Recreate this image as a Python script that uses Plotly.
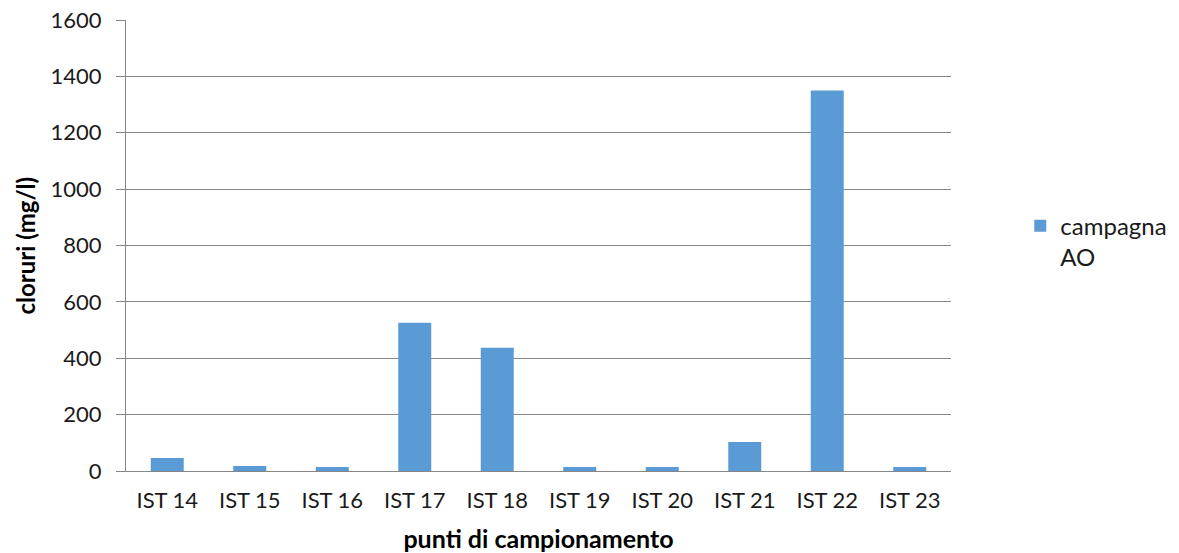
import plotly.graph_objects as go

# Sampling points and chloride concentrations (mg/l)
punti = ["IST 14", "IST 15", "IST 16", "IST 17", "IST 18",
         "IST 19", "IST 20", "IST 21", "IST 22", "IST 23"]
cloruri = [46, 18, 14, 526, 437, 14, 14, 103, 1350, 14]
serie = "campagna<br>AO"

y_ticks = [0, 200, 400, 600, 800, 1000, 1200, 1400, 1600]

FONT = "Lato"
GRID = "#868686"
TEXT = "#1a1a1a"

fig = go.Figure()
fig.add_trace(go.Bar(
    x=punti,
    y=cloruri,
    name=serie,
    marker=dict(color="#5b9bd5", line=dict(width=0)),
    showlegend=True,
))

fig.update_layout(
    width=1179,
    height=553,
    margin=dict(l=126, r=228, t=20, b=82, autoexpand=False),
    paper_bgcolor="white",
    plot_bgcolor="white",
    bargap=0.6,
    font=dict(family=FONT, size=22, color=TEXT),
    showlegend=True,
    legend=dict(
        x=1.084, y=0.593, xanchor="left", yanchor="top",
        valign="top",
        font=dict(family=FONT, size=24, color=TEXT),
        bgcolor="rgba(0,0,0,0)",
    ),
    xaxis=dict(
        automargin=False,
        showgrid=False,
        showline=True, linecolor=GRID, linewidth=1,
        ticks="", ticklabelstandoff=10,
        tickfont=dict(family=FONT, size=22, color=TEXT),
        title=dict(text="<b>punti di campionamento</b>",
                   font=dict(family=FONT, size=25, color="#000000"),
                   standoff=22),
    ),
    yaxis=dict(
        automargin=False,
        range=[0, 1600],
        tickvals=y_ticks,
        showgrid=True, gridcolor=GRID, gridwidth=1,
        showline=True, linecolor=GRID, linewidth=1,
        ticks="outside", ticklen=9, tickcolor=GRID,
        ticklabelstandoff=10,
        tickfont=dict(family=FONT, size=22, color=TEXT),
        zeroline=False,
    ),
)

# Vertical axis title, placed beside the tick labels
fig.add_annotation(
    text="<b>cloruri (mg/l)</b>",
    xref="paper", yref="paper",
    x=-0.1224, y=0.5, xanchor="center", yanchor="middle",
    textangle=-90, showarrow=False,
    font=dict(family=FONT, size=24, color="#000000"),
)

fig.write_html("out.html")
